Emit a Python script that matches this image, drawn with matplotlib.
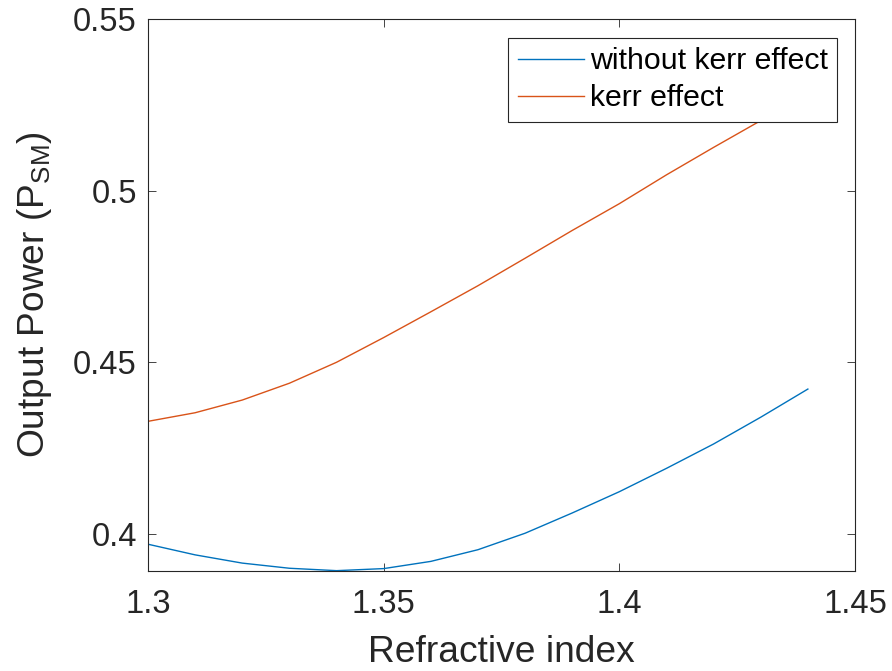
import matplotlib
matplotlib.use("Agg")
import matplotlib.pyplot as plt

# refractive index samples
n_index = [1.30, 1.31, 1.32, 1.33, 1.34, 1.35, 1.36, 1.37,
           1.38, 1.39, 1.40, 1.41, 1.42, 1.43, 1.44]

# output power without kerr effect
p_no_kerr = [0.3970, 0.3939, 0.3915, 0.3900, 0.3893, 0.3899, 0.3920, 0.3954,
             0.4002, 0.4061, 0.4123, 0.4191, 0.4262, 0.4340, 0.4422]

# output power with kerr effect
p_kerr = [0.4328, 0.4353, 0.4390, 0.4439, 0.4500, 0.4572, 0.4647, 0.4723,
          0.4803, 0.4884, 0.4962, 0.5046, 0.5126, 0.5204, 0.5283]

x_ticks = [1.3, 1.35, 1.4, 1.45]
x_tick_labels = ['1.3', '1.35', '1.4', '1.45']
y_ticks = [0.4, 0.45, 0.5, 0.55]
y_tick_labels = ['0.4', '0.45', '0.5', '0.55']

plt.rcParams['font.family'] = ['Liberation Sans', 'DejaVu Sans']
plt.rcParams['mathtext.fontset'] = 'custom'
plt.rcParams['mathtext.rm'] = 'Liberation Sans'
plt.rcParams['mathtext.it'] = 'Liberation Sans'

axis_col = '#262626'

fig = plt.figure(figsize=(8.92, 6.71), dpi=100)
ax = fig.add_axes([148 / 892, 100 / 671, 707 / 892, 552 / 671])

ax.plot(n_index, p_no_kerr, color='#0072BD', lw=1.0, label='without kerr effect')
ax.plot(n_index, p_kerr, color='#D95319', lw=1.0, label='kerr effect')

ax.set_xlim(1.3, 1.45)
ax.set_ylim(0.3892, 0.55)
ax.set_xticks(x_ticks)
ax.set_xticklabels(x_tick_labels)
ax.set_yticks(y_ticks)
ax.set_yticklabels(y_tick_labels)

# matlab style box with inward ticks
ax.tick_params(direction='in', top=True, right=True, length=5.5, width=0.6,
               color=axis_col, labelcolor=axis_col, labelsize=23.5)
ax.tick_params(axis='x', pad=13)
ax.tick_params(axis='y', pad=8)
for s in ax.spines.values():
    s.set_color(axis_col)
    s.set_linewidth(0.8)

ax.set_xlabel('Refractive index', fontsize=26.7, color=axis_col, labelpad=11)
ax.set_ylabel('Output Power (P$_{\\mathrm{SM}}$)', fontsize=26.7, color=axis_col, labelpad=14)

leg = ax.legend(loc='upper right', bbox_to_anchor=(0.975, 0.965), borderaxespad=0,
                fontsize=21.8, fancybox=False, framealpha=1, edgecolor='#262626',
                handlelength=2.2, handletextpad=0.2, labelspacing=0.3, borderpad=0.3)
leg.get_frame().set_linewidth(0.8)

fig.savefig('out.png', dpi=100)
